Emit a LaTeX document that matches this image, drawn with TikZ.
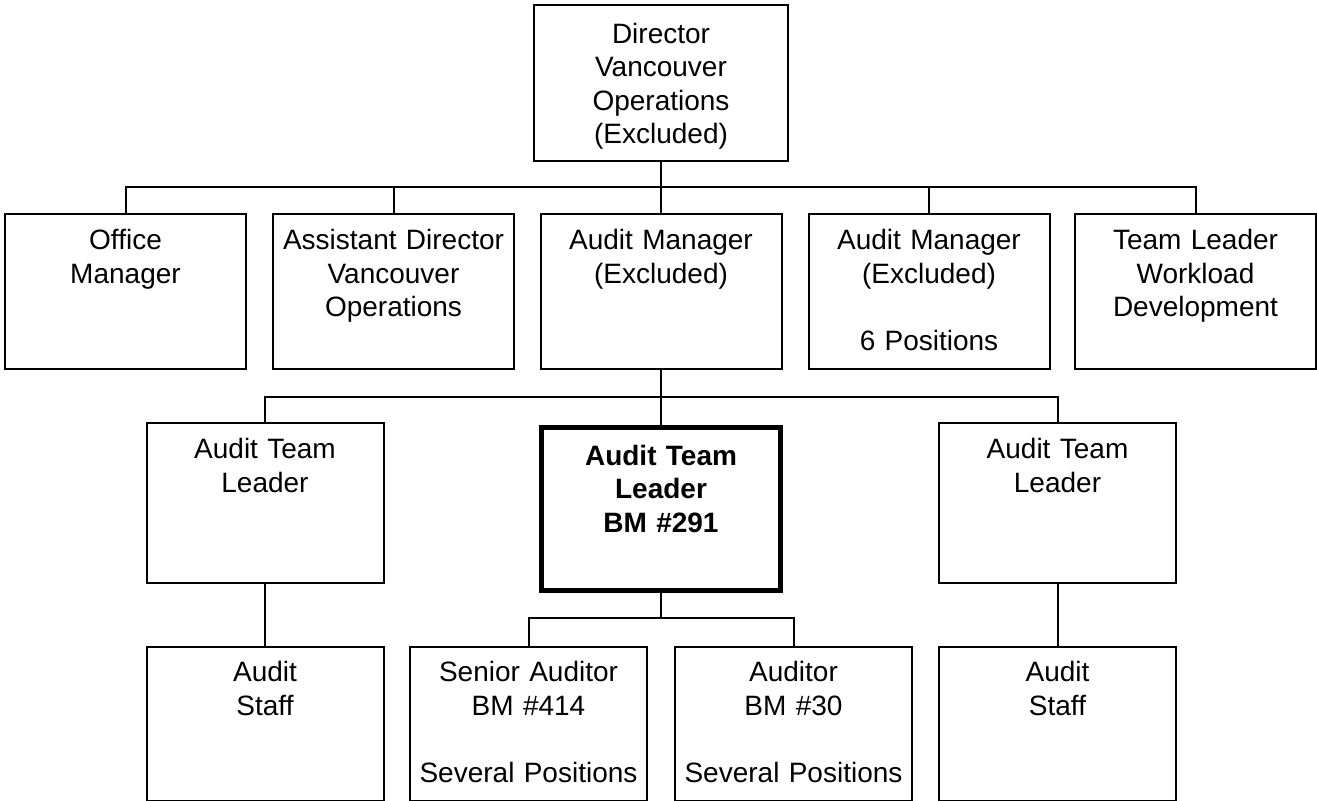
\documentclass[tikz,border=0pt]{standalone}
\usepackage{fontspec}
\setmainfont{Liberation Sans}
\usetikzlibrary{positioning}

\begin{document}
\begin{tikzpicture}[x=0.5pt, y=-0.5pt,
  box/.style={draw, line width=1pt, inner sep=0pt, anchor=north, align=center, font=\fontsize{14pt}{16.7pt}\selectfont, text height=17.75pt},
  topbox/.style={box, text width=127pt, text height=19pt, text depth=59pt},
  mgrbox/.style={box, text width=120.5pt, text depth=59.75pt},
  leadbox/.style={box, text width=118.5pt, text depth=62.25pt},
  keybox/.style={box, line width=2.5pt, text width=119.25pt, font=\bfseries\fontsize{14pt}{16.7pt}\selectfont, text height=18.75pt, text depth=62.75pt},
  staffbox/.style={box, text width=118.5pt, text depth=59.25pt},
  link/.style={line width=1pt}
]
\useasboundingbox (0,0) rectangle (1317,801);

% Director
\node[topbox] (dir) at (661, 4.5) {Director\\Vancouver\\Operations\\(Excluded)};

% Second row
\node[mgrbox] (office) at (125.5, 213.5) {Office\\Manager};
\node[mgrbox] (asst) at (393.5, 213.5) {Assistant Director\\Vancouver\\Operations};
\node[mgrbox] (amgr) at (661, 213.5) {Audit Manager\\(Excluded)};
\node[mgrbox] (amgrsix) at (929, 213.5) {Audit Manager\\(Excluded)\\[16.7pt]6 Positions};
\node[mgrbox] (tlead) at (1195.5, 213.5) {Team Leader\\Workload\\Development};

% Third row
\node[leadbox] (leadl) at (265, 422.5) {Audit Team\\Leader};
\node[keybox] (key) at (661, 425.5) {Audit Team\\Leader\\BM \#291};
\node[leadbox] (leadr) at (1057.5, 422.5) {Audit Team\\Leader};

% Fourth row
\node[staffbox] (staffl) at (265, 645.5) {Audit\\Staff};
\node[staffbox] (senior) at (528.5, 645.5) {Senior Auditor\\BM \#414\\[16.7pt]Several Positions};
\node[staffbox] (auditor) at (793.5, 645.5) {Auditor\\BM \#30\\[16.7pt]Several Positions};
\node[staffbox] (staffr) at (1057.5, 645.5) {Audit\\Staff};

% Connections
\coordinate (busa) at (661, 187);
\coordinate (busb) at (661, 397);
\coordinate (busc) at (661, 618);

\draw[link] (dir.south) -- (busa);
\draw[link] (busa) -| (office.north);
\draw[link] (busa) -| (asst.north);
\draw[link] (busa) -- (amgr.north);
\draw[link] (busa) -| (amgrsix.north);
\draw[link] (busa) -| (tlead.north);

\draw[link] (amgr.south) -- (busb);
\draw[link] (busb) -| (leadl.north);
\draw[link] (busb) -- (key.north);
\draw[link] (busb) -| (leadr.north);

\draw[link] (key.south) -- (busc);
\draw[link] (busc) -| (senior.north);
\draw[link] (busc) -| (auditor.north);

\draw[link] (leadl.south) -- (staffl.north);
\draw[link] (leadr.south) -- (staffr.north);

\end{tikzpicture}
\end{document}
